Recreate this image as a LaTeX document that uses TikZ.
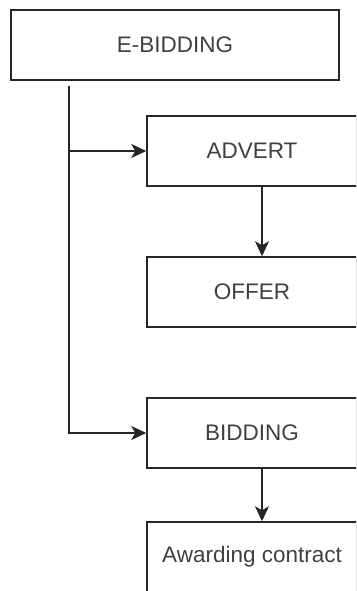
\documentclass[tikz,border=0pt]{standalone}
\usepackage{fontspec}
\setmainfont{Liberation Sans}
\usetikzlibrary{arrows.meta}

\begin{document}
\begin{tikzpicture}[x=1pt, y=-1pt,
    box/.style={draw=black!85, line width=1.5pt, minimum height=70pt, inner sep=0pt,
        text=black!75, font=\fontsize{22.5}{27}\selectfont},
    link/.style={draw=black!85, line width=1.5pt, -{Stealth[length=15pt, width=14pt, inset=4pt]}}]
    \useasboundingbox (0,0) rectangle (356,591);
    \clip (0,0) rectangle (356,591);

    % Boxes
    \node[box, minimum width=328pt] (ebid) at (175, 45) {E-BIDDING};
    \node[box, minimum width=210pt] (advert) at (252, 151) {ADVERT};
    \node[box, minimum width=210pt] (offer) at (252, 292) {OFFER};
    \node[box, minimum width=210pt] (bidding) at (252, 433) {BIDDING};
    \node[box, minimum width=210pt] (award) at (252, 557) {Awarding contract};

    % Trunk from E-BIDDING
    \coordinate (trunk) at (69, 86);
    \draw[link] (trunk) |- (bidding.west);
    \draw[link] (trunk |- advert.west) -- (advert.west);

    % Steps down
    \draw[link] ([xshift=10pt]advert.south) -- ([xshift=10pt]offer.north);
    \draw[link] ([xshift=10pt]bidding.south) -- ([xshift=10pt]award.north);
\end{tikzpicture}
\end{document}
